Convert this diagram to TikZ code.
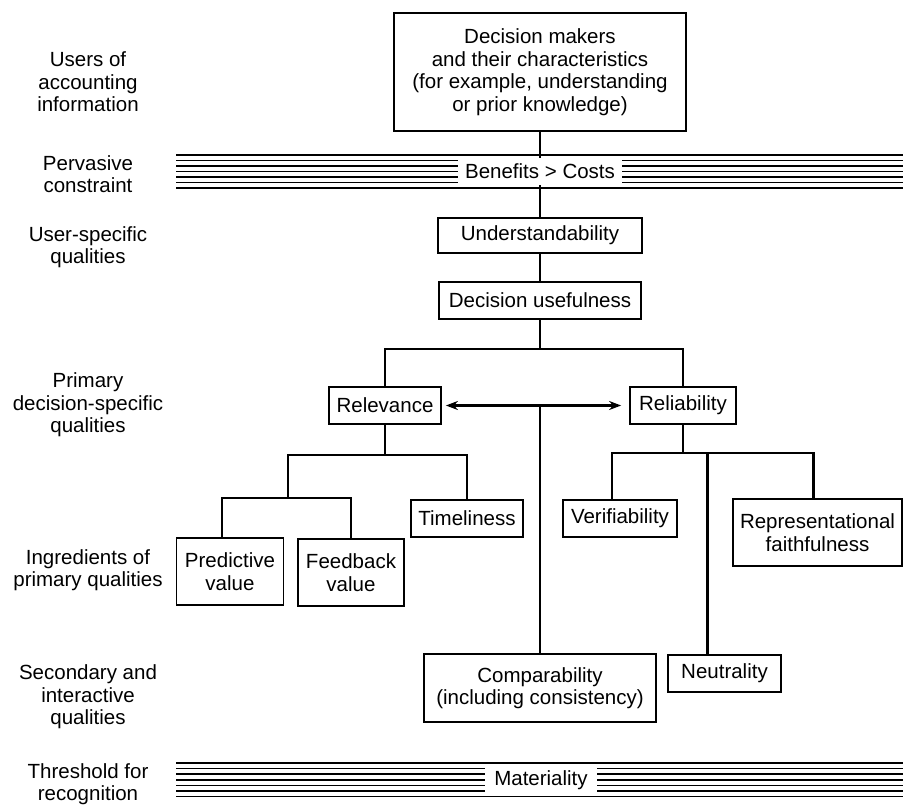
\documentclass[tikz,border=0pt]{standalone}
\usepackage{fontspec}
\setmainfont{Liberation Sans}
\usetikzlibrary{arrows.meta}
\begin{document}
\begin{tikzpicture}[x=1pt,y=-1pt,
  txt/.style={font=\fontsize{20.5pt}{22.5pt}\selectfont, align=center, inner sep=0pt},
  box/.style={txt, draw, line width=1.8pt, fill=white},
  conn/.style={line width=2.8pt},
  stripe/.style={line width=1.5pt},
  bandtext/.style={txt, fill=white, minimum height=27pt}
]
\useasboundingbox (0,0) rectangle (903,805);

% left-hand labels
\node[txt] (l1) at (88,82)  {Users of\\accounting\\information};
\node[txt] (l2) at (88,174) {Pervasive\\constraint};
\node[txt] (l3) at (88,247) {User-specific\\qualities};
\node[txt] (l4) at (88,405) {Primary\\decision-specific\\qualities};
\node[txt] (l5) at (88,570) {Ingredients of\\primary qualities};
\node[txt] (l6) at (88,697) {Secondary and\\interactive\\qualities};
\node[txt] (l7) at (88,784) {Threshold for\\recognition};

% boxes
\node[box, minimum width=292pt, minimum height=118pt] (dm) at (540,72)
  {Decision makers\\and their characteristics\\(for example, understanding\\or prior knowledge)};
\node[box, minimum width=204pt, minimum height=35pt] (und) at (540,235.5) {Understandability};
\node[box, minimum width=202pt, minimum height=37pt] (du) at (540,300.5) {Decision usefulness};
\node[box, minimum width=112pt, minimum height=37pt] (rel) at (385,405.5) {Relevance};
\node[box, minimum width=106pt, minimum height=37pt] (rlb) at (683,405.5) {Reliability};
\node[box, minimum width=112pt, minimum height=37pt] (tim) at (467,518.5) {Timeliness};
\node[box, minimum width=114pt, minimum height=37pt] (ver) at (620,518.5) {Verifiability};
\node[box, minimum width=107pt, minimum height=67pt] (pv) at (230,571.5) {Predictive\\value};
\node[box, minimum width=106pt, minimum height=67pt] (fb) at (351,572.5) {Feedback\\value};
\node[box, minimum width=169pt, minimum height=67pt] (rf) at (817.5,532.5) {Representational\\faithfulness};
\node[box, minimum width=232pt, minimum height=68pt] (cmp) at (540,688) {Comparability\\(including consistency)};
\node[box, minimum width=113pt, minimum height=37pt] (neu) at (724.5,673.5) {Neutrality};

% junction coordinates
\coordinate (j0) at (540,349);
\coordinate (jr) at (385,455);
\coordinate (jl) at (288,455);
\coordinate (jp) at (288,498);
\coordinate (jv) at (683,453);
\coordinate (ja) at (540,405.5);

% connectors
\draw[conn] (dm.south) -- (und.north);
\draw[conn] (und.south) -- (du.north);
\draw[conn] (du.south) -- (j0);
\draw[conn] (rel.north) |- (j0) -| (rlb.north);
\draw[line width=2.2pt, {Stealth[length=12pt,width=9pt]}-{Stealth[length=12pt,width=9pt]}, shorten <=4pt, shorten >=8pt] (rel.east) -- (rlb.west);
\draw[conn] (ja) -- (cmp.north);
\draw[conn] (rel.south) -- (jr);
\draw[conn] (tim.north) |- (jl) -- (jp);
\draw[conn] ([xshift=-8pt]pv.north) |- (jp) -| (fb.north);
\draw[conn] (rlb.south) -- (jv);
\draw[conn] ([xshift=-8pt]ver.north) |- (jv) -| ([xshift=-4pt]rf.north);
\draw[conn] ([xshift=-17pt]neu.north) -- ([xshift=-17pt]neu.north |- jv);

% bands
\foreach \i in {0,...,6} {
  \draw[stripe] (176,155+5.5*\i) -- (903,155+5.5*\i);
  \draw[stripe] (176,763+5.6*\i) -- (903,763+5.6*\i);
}
\node[bandtext, minimum width=164pt] (bc) at (540,171.5) {Benefits > Costs};
\node[bandtext, minimum width=112pt] (mat) at (541,780) {Materiality};
\end{tikzpicture}
\end{document}
